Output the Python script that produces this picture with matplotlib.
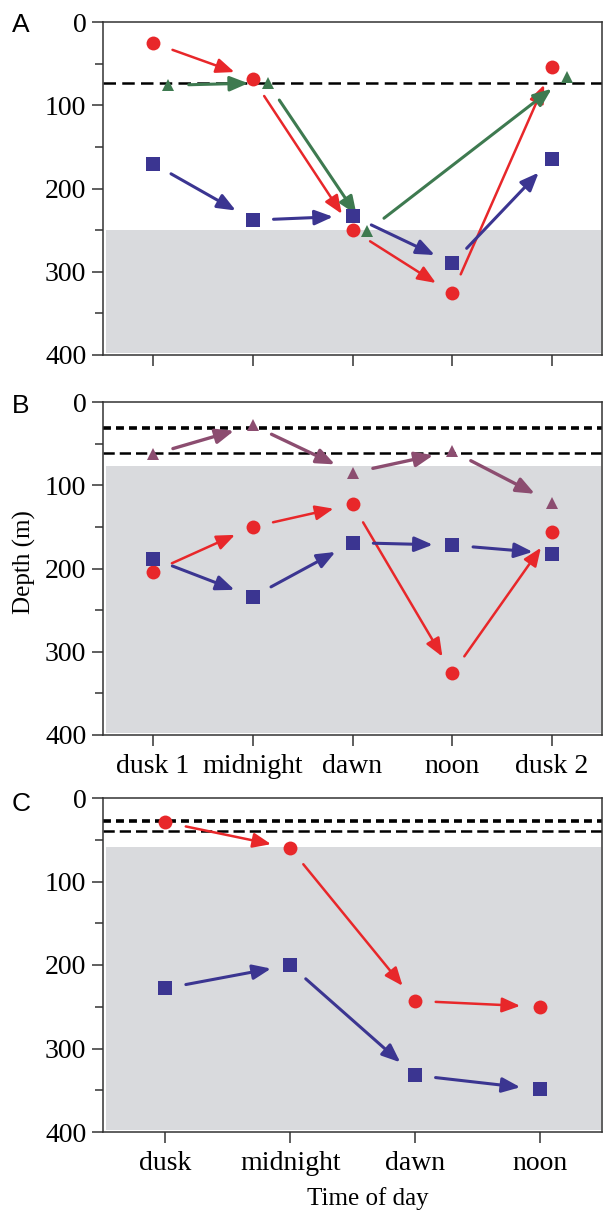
import matplotlib
matplotlib.use("Agg")
import matplotlib.pyplot as plt
from matplotlib.ticker import MultipleLocator

# ---- data (depth in m) ----
times_ab = ["dusk 1", "midnight", "dawn", "noon", "dusk 2"]
times_c = ["dusk", "midnight", "dawn", "noon"]

# panel A
a_red = [25, 68, 250, 326, 54]
a_blue = [170, 238, 233, 290, 164]
a_green_idx = [0, 1, 2, 4]
a_green = [76, 73, 251, 66]
a_dash = [73]
a_shade = 250

# panel B
b_red = [204, 150, 123, 326, 156]
b_blue = [188, 234, 169, 172, 182]
b_mauve = [63, 28, 85, 59, 121]
b_dash = [31, 61]
b_shade = 77

# panel C
c_red = [29, 60, 243, 250]
c_blue = [228, 200, 332, 349]
c_dash = [27, 40]
c_shade = 59

RED = "#e8272a"
BLUE = "#3b3591"
GREEN = "#3e7a50"
MAUVE = "#8c4d70"
GRAY = "#d9dadd"
SPINE = "#333333"

plt.rcParams["font.family"] = ["Liberation Serif", "DejaVu Serif"]

fig = plt.figure(figsize=(6.05, 12.15), dpi=100)
W, H = 605.0, 1215.0


def add_axes(top, bottom, left=103, right=602):
    return fig.add_axes([left / W, 1 - bottom / H, (right - left) / W, (bottom - top) / H])


def arrows(ax, xs, ys, color, lw=1.8):
    for i in range(len(xs) - 1):
        ax.annotate("", xy=(xs[i + 1], ys[i + 1]), xytext=(xs[i], ys[i]),
                    arrowprops=dict(arrowstyle="-|>,head_length=1.1,head_width=0.45",
                                    color=color, lw=lw, shrinkA=15, shrinkB=14,
                                    mutation_scale=10),
                    zorder=3)


def style(ax, n, labels):
    ax.set_xlim(-0.5, n - 0.5)
    ax.set_ylim(400, 0)
    ax.yaxis.set_major_locator(MultipleLocator(100))
    ax.yaxis.set_minor_locator(MultipleLocator(50))
    ax.set_xticks(range(n))
    if labels is None:
        ax.set_xticklabels([])
    else:
        ax.set_xticklabels(labels)
    ax.tick_params(axis="both", which="major", direction="out", length=8, width=1.1,
                   color=SPINE, labelsize=20, pad=4)
    ax.tick_params(axis="x", which="major", pad=6)
    ax.tick_params(axis="y", which="minor", direction="out", length=6, width=1.1, color=SPINE)
    ax.tick_params(axis="x", which="minor", length=0)
    for s in ax.spines.values():
        s.set_color(SPINE)
        s.set_linewidth(1.1)


def shade(ax, top):
    ax.axhspan(top, 398, xmin=0.006, xmax=0.997, color=GRAY, lw=0, zorder=0)


def dashes(ax, levels):
    if len(levels) == 1:
        ax.axhline(levels[0], color="black", lw=1.8, dashes=(5, 2.5), zorder=1)
    else:
        ax.axhline(levels[0], color="black", lw=2.6, dashes=(2.2, 1.4), zorder=1)
        ax.axhline(levels[1], color="black", lw=1.8, dashes=(4.5, 2), zorder=1)


ms = 10

# ---- panel A ----
axA = add_axes(22, 355)
shade(axA, a_shade)
dashes(axA, a_dash)
x5 = list(range(len(times_ab)))
gx = [i + 0.15 for i in a_green_idx]
arrows(axA, x5, a_red, RED)
arrows(axA, x5, a_blue, BLUE, lw=2.2)
arrows(axA, gx, a_green, GREEN, lw=2.2)
axA.plot(x5, a_red, "o", color=RED, ms=ms, mew=0, zorder=4)
axA.plot(x5, a_blue, "s", color=BLUE, ms=ms, mew=0, zorder=4)
axA.plot(gx, a_green, "^", color=GREEN, ms=9, mew=0, zorder=4)
style(axA, len(times_ab), None)

# ---- panel B ----
axB = add_axes(402, 735)
shade(axB, b_shade)
dashes(axB, b_dash)
arrows(axB, x5, b_mauve, MAUVE, lw=2.4)
arrows(axB, x5, b_red, RED)
arrows(axB, x5, b_blue, BLUE, lw=2.2)
axB.plot(x5, b_mauve, "^", color=MAUVE, ms=9, mew=0, zorder=4)
axB.plot(x5, b_red, "o", color=RED, ms=ms, mew=0, zorder=4)
axB.plot(x5, b_blue, "s", color=BLUE, ms=ms, mew=0, zorder=4)
style(axB, len(times_ab), times_ab)

# ---- panel C ----
axC = add_axes(798, 1132)
shade(axC, c_shade)
dashes(axC, c_dash)
x4 = list(range(len(times_c)))
arrows(axC, x4, c_red, RED)
arrows(axC, x4, c_blue, BLUE, lw=2.2)
axC.plot(x4, c_red, "o", color=RED, ms=ms, mew=0, zorder=4)
axC.plot(x4, c_blue, "s", color=BLUE, ms=ms, mew=0, zorder=4)
style(axC, len(times_c), times_c)

# labels
for letter, ytop in [("A", 13), ("B", 394), ("C", 792)]:
    fig.text(12 / W, 1 - ytop / H, letter, family="Liberation Sans", fontsize=19,
             va="top", ha="left")
fig.text(24 / W, 1 - 562 / H, "Depth (m)", rotation=90, fontsize=18, ha="center", va="center")
fig.text(368 / W, 1 - 1199 / H, "Time of day", fontsize=18, ha="center", va="center")

fig.savefig("out.png", dpi=100)
